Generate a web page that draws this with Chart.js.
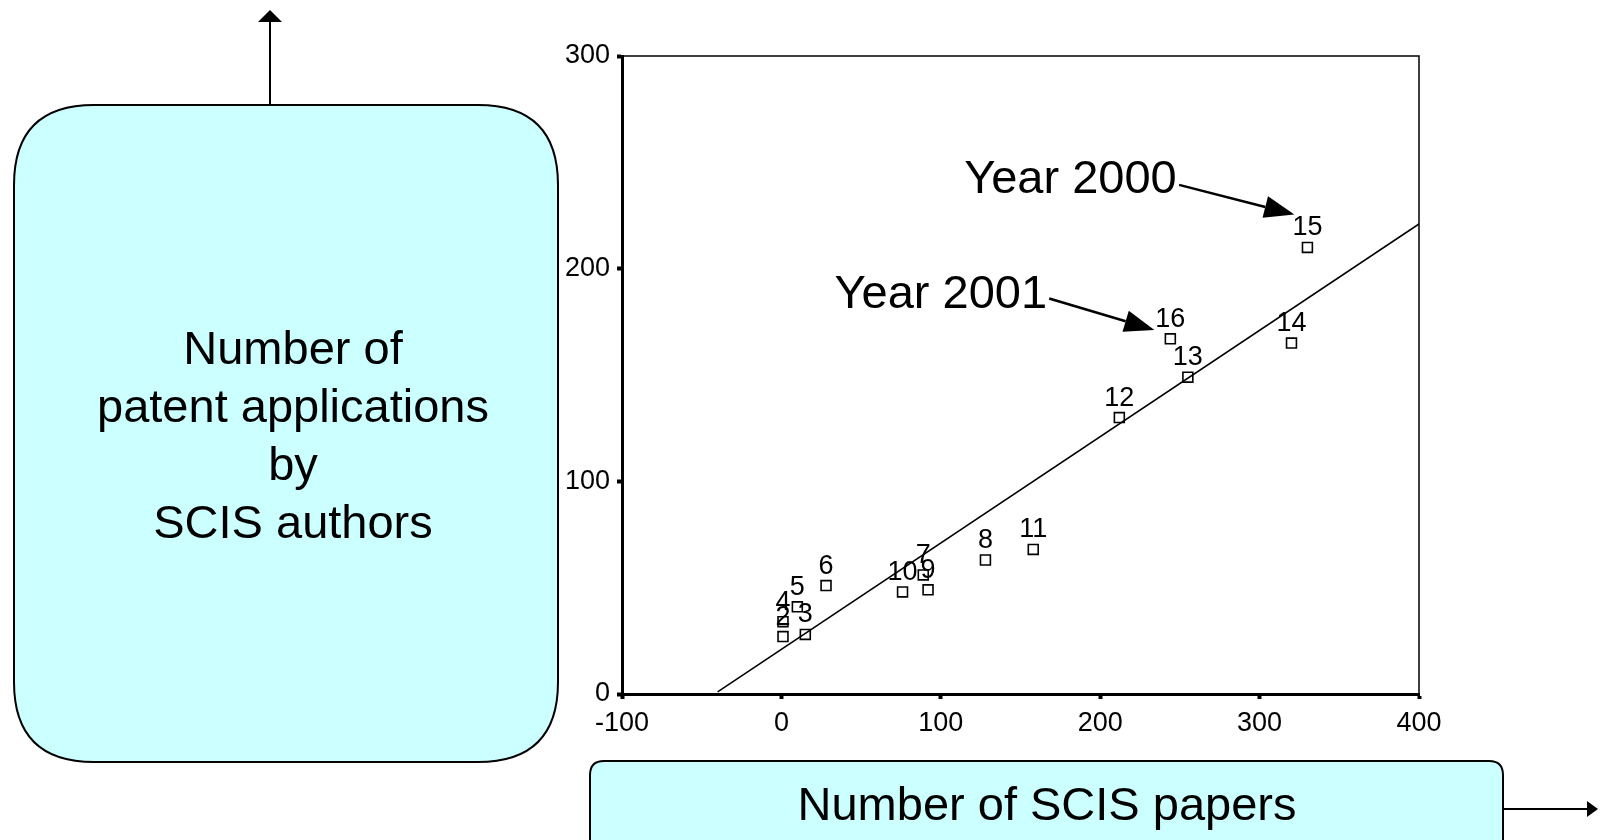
<!DOCTYPE html>
<html>
<head>
<meta charset="utf-8">
<title>SCIS papers vs patent applications</title>
<script src="https://cdn.jsdelivr.net/npm/chart.js@4.4.0/dist/chart.umd.min.js"></script>
<style>
  html, body { margin: 0; padding: 0; background: #fff; }
  #chart { display: block; }
</style>
</head>
<body>
<canvas id="chart" width="1601" height="840"></canvas>
<script>
// case numbers and values
const caseLabels = ["2", "3", "4", "5", "6", "7", "8", "9", "10", "11", "12", "13", "14", "15", "16"];
const papers  = [1, 15, 1, 10, 28, 89, 128, 92, 76, 158, 212, 255, 320, 330, 244];
const patents = [27, 28, 34, 41, 51, 56, 63, 49, 48, 68, 130, 149, 165, 210, 167];

// fitted line end points
const fitX = [-40, 400];
const fitY = [1, 221];

const xTicks = [-100, 0, 100, 200, 300, 400];
const yTicks = [0, 100, 200, 300];

// year callouts (data units): text right end, arrow start, arrow tip
const noteNames = ["Year 2000", "Year 2001"];
const noteText  = [[248, 241.6], [166.7, 187.7]];
const noteFrom  = [[249.5, 239.4], [168, 186]];
const noteTo    = [[321.8, 225.5], [234, 171.2]];

const yLabelLines = ["Number of", "patent applications", "by", "SCIS authors"];
const xLabelText = "Number of SCIS papers";

const BIG = "47px 'Liberation Sans', Arial, sans-serif";
const tickFont = { family: "'Liberation Sans Narrow', 'Liberation Sans', Arial, sans-serif", size: 27 };
const CYAN = "#ccffff";

function roundBox(ctx, x, y, w, h, r) {
  ctx.beginPath();
  ctx.moveTo(x + r, y);
  ctx.lineTo(x + w - r, y);
  ctx.quadraticCurveTo(x + w, y, x + w, y + r);
  ctx.lineTo(x + w, y + h - r);
  ctx.quadraticCurveTo(x + w, y + h, x + w - r, y + h);
  ctx.lineTo(x + r, y + h);
  ctx.quadraticCurveTo(x, y + h, x, y + h - r);
  ctx.lineTo(x, y + r);
  ctx.quadraticCurveTo(x, y, x + r, y);
  ctx.closePath();
  ctx.fillStyle = CYAN;
  ctx.fill();
  ctx.lineWidth = 2;
  ctx.strokeStyle = "#000";
  ctx.stroke();
}

function arrow(ctx, x1, y1, x2, y2, len, half, lw) {
  const a = Math.atan2(y2 - y1, x2 - x1);
  const bx = x2 - len * Math.cos(a), by = y2 - len * Math.sin(a);
  ctx.strokeStyle = "#000";
  ctx.fillStyle = "#000";
  ctx.lineWidth = lw;
  ctx.beginPath();
  ctx.moveTo(x1, y1);
  ctx.lineTo(bx, by);
  ctx.stroke();
  ctx.beginPath();
  ctx.moveTo(x2, y2);
  ctx.lineTo(bx + half * Math.sin(a), by - half * Math.cos(a));
  ctx.lineTo(bx - half * Math.sin(a), by + half * Math.cos(a));
  ctx.closePath();
  ctx.fill();
}

const decor = {
  id: "decor",
  beforeDraw(chart) {
    const ctx = chart.ctx;
    ctx.save();
    ctx.fillStyle = "#fff";
    ctx.fillRect(0, 0, chart.width, chart.height);

    // left label box + up arrow
    arrow(ctx, 270, 105, 270, 10, 12, 12, 2);
    roundBox(ctx, 14, 105, 544, 657, 80);
    ctx.fillStyle = "#000";
    ctx.font = BIG;
    ctx.textAlign = "center";
    ctx.textBaseline = "middle";
    yLabelLines.forEach((t, i) => ctx.fillText(t, 293, 351 + i * 58));

    // bottom label box + right arrow
    roundBox(ctx, 590, 761, 913, 100, 14);
    arrow(ctx, 1503, 809, 1598, 809, 11, 8, 2);
    ctx.fillStyle = "#000";
    ctx.fillText(xLabelText, 1047, 807);
    ctx.restore();
  },
  afterDraw(chart) {
    const ctx = chart.ctx;
    const a = chart.chartArea;
    const xs = chart.scales.x, ys = chart.scales.y;
    ctx.save();
    // thin top/right frame
    ctx.strokeStyle = "#000";
    ctx.lineWidth = 1.5;
    ctx.beginPath();
    ctx.moveTo(a.left, a.top);
    ctx.lineTo(a.right, a.top);
    ctx.lineTo(a.right, a.bottom);
    ctx.stroke();

    // case numbers above points
    const meta = chart.getDatasetMeta(1);
    ctx.font = tickFont.size + "px " + tickFont.family;
    ctx.fillStyle = "#000";
    ctx.textAlign = "center";
    ctx.textBaseline = "alphabetic";
    meta.data.forEach((p, i) => ctx.fillText(caseLabels[i], p.x, p.y - 12));

    // year callouts
    ctx.font = BIG;
    ctx.textAlign = "right";
    ctx.textBaseline = "middle";
    noteNames.forEach((t, i) => {
      ctx.fillStyle = "#000";
      ctx.fillText(t, xs.getPixelForValue(noteText[i][0]), ys.getPixelForValue(noteText[i][1]));
      arrow(ctx,
        xs.getPixelForValue(noteFrom[i][0]), ys.getPixelForValue(noteFrom[i][1]),
        xs.getPixelForValue(noteTo[i][0]), ys.getPixelForValue(noteTo[i][1]),
        30, 11, 2.5);
    });
    ctx.restore();
  }
};

const ctx = document.getElementById("chart").getContext("2d");
new Chart(ctx, {
  type: "scatter",
  data: {
    datasets: [
      {
        type: "line",
        data: fitX.map((x, i) => ({ x: x, y: fitY[i] })),
        borderColor: "#000",
        borderWidth: 1.6,
        pointRadius: 0,
        fill: false,
        tension: 0
      },
      {
        data: papers.map((x, i) => ({ x: x, y: patents[i] })),
        pointStyle: "rect",
        pointRadius: 7,
        borderColor: "#000",
        borderWidth: 1.6,
        backgroundColor: "#fff"
      }
    ]
  },
  options: {
    responsive: false,
    animation: false,
    events: [],
    layout: { padding: { left: 0, top: 56, right: 182, bottom: 0 } },
    plugins: { legend: { display: false }, tooltip: { enabled: false } },
    scales: {
      x: {
        type: "linear",
        min: -100,
        max: 400,
        afterBuildTicks: s => { s.ticks = xTicks.map(v => ({ value: v })); },
        afterFit: s => { s.height = 146; },
        grid: { drawOnChartArea: false, tickLength: 5, tickWidth: 4, tickColor: "#000" },
        border: { color: "#000", width: 3 },
        ticks: { color: "#000", font: tickFont, padding: 8, maxRotation: 0, autoSkip: false }
      },
      y: {
        type: "linear",
        min: 0,
        max: 300,
        afterBuildTicks: s => { s.ticks = yTicks.map(v => ({ value: v })); },
        afterFit: s => { s.width = 622; },
        grid: { drawOnChartArea: false, tickLength: 5, tickWidth: 4, tickColor: "#000" },
        border: { color: "#000", width: 3 },
        ticks: { color: "#000", font: tickFont, padding: 7, autoSkip: false }
      }
    }
  },
  plugins: [decor]
});
</script>
</body>
</html>
